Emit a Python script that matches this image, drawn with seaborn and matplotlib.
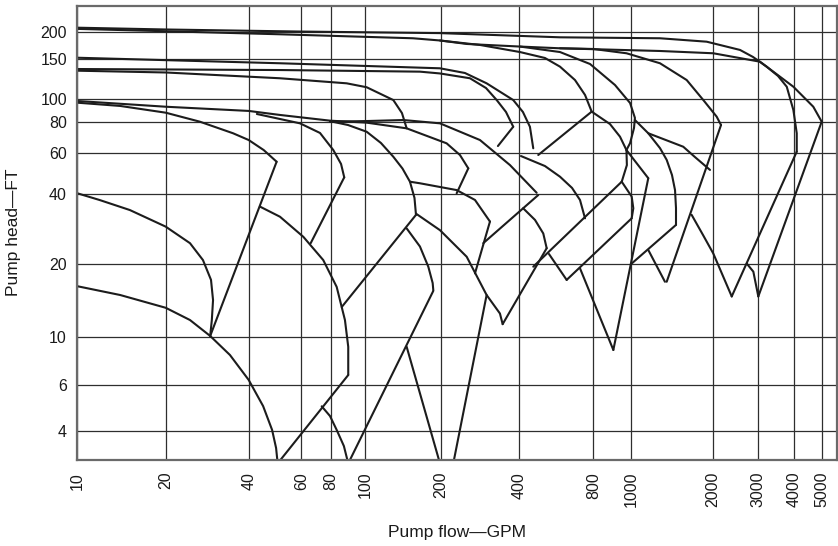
import numpy as np
import pandas as pd
import matplotlib
matplotlib.use("Agg")
import matplotlib.pyplot as plt
import seaborn as sns

# ---------------- data (flow GPM, head FT) ----------------
x_ticks = [10, 20, 40, 60, 80, 100, 200, 400, 800, 1000, 2000, 3000, 4000, 5000]
y_ticks = [4, 6, 10, 20, 40, 60, 80, 100, 150, 200]

c_a40_q = [10, 11.9, 15.1, 20, 24.5, 27.3, 29.2, 29.7, 29.4, 29.0]
c_a40_h = [40.4, 37.8, 34.2, 29.0, 24.6, 20.8, 17.2, 14.2, 11.75, 10.1]
c_a16_q = [10, 14, 20, 24.5, 29, 34.2, 40, 44.7, 47.9, 49.4, 50]
c_a16_h = [16.2, 14.9, 13.2, 11.75, 10.1, 8.27, 6.35, 4.99, 4.04, 3.44, 3.0]
l_a_q = [29.0, 49.6]
l_a_h = [10.1, 55.2]
c_b96_q = [10, 14, 20, 26.6, 35.1, 40, 44.9, 49.6]
c_b96_h = [96.2, 93.2, 87.3, 80, 72, 67.7, 61.8, 55.2]
c_b35_q = [43.6, 50.9, 61.2, 74.2, 83, 87.6, 89.5, 89.5]
c_b35_h = [35.4, 32, 26.2, 20.8, 16.1, 11.75, 9.02, 6.69]
l_b_q = [89.5, 50]
l_b_h = [6.69, 3.0]
c_b5_q = [73.1, 79.2, 83, 87, 89.5]
c_b5_h = [4.98, 4.57, 4.04, 3.5, 3.0]
l_c_q = [89.5, 186.9]
l_c_h = [3.0, 15.5]
c_q1_q = [10, 20, 40, 50.9, 79.2, 101.3, 146.3, 210.8, 237.2, 255.4]
c_q1_h = [97.8, 92.5, 88.8, 85.4, 80.8, 79.3, 75.3, 65.7, 59, 51.7]
l_q1_q = [255.4, 230.4]
l_q1_h = [51.7, 40.4]
c_p5_q = [42.6, 59.4, 71.9, 81.2, 85.4, 87.2]
c_p5_h = [86.2, 78.8, 72.2, 61.8, 54, 47.3]
l_p5_q = [87.2, 65.7]
l_p5_h = [47.3, 24.6]
c_p6_q = [79.2, 89.4, 101.3, 115.5, 129.4, 140.8, 150.8, 157.2, 159.4]
c_p6_h = [80.4, 77.6, 73, 65.9, 58, 51.6, 45.3, 38.6, 32.6]
l_p6_q = [159.4, 85.8]
l_p6_h = [32.6, 13.3]
c_d_q = [146.3, 165.3, 178.5, 185.8, 186.9]
c_d_h = [28.5, 23.8, 19.5, 16.7, 15.6]
c_e_q = [159.4, 198.7, 251.8, 300.4, 338, 346.2]
c_e_h = [33, 28, 21.5, 14.9, 12.5, 11.3]
c_ce_q = [150.8, 165.3, 230.4, 271, 309.4]
c_ce_h = [45.3, 44.6, 41.7, 37.8, 30.5]
l_ce1_q = [309.4, 271]
l_ce1_h = [30.5, 18.3]
l_ce2_q = [291.6, 478.8]
l_ce2_h = [24.6, 39.7]
c_q2_q = [79.2, 101.3, 141.8, 198.7, 283.2, 369.4, 471.7]
c_q2_h = [80, 80.5, 81.3, 78.8, 67.7, 53.4, 40.6]
l_d1_q = [146.3, 198.7]
l_d1_h = [9.02, 3.0]
l_d2_q = [223.6, 300.4]
l_d2_h = [3.0, 14.9]
t_a_q = [10, 20, 59.4, 198.7, 586.4, 1279, 1900, 2558, 2876, 3218, 3519, 3769, 3970, 4078, 4078]
t_a_h = [208.6, 204.7, 200.3, 197, 188.5, 186.6, 180, 165, 153.2, 138.7, 126.1, 113, 89.6, 72, 60.9]
t_b_q = [10, 50.9, 155, 198.7, 252.4, 403.7, 586.4, 1279, 2011, 3054, 3970, 4654, 4977]
t_b_h = [206, 194.6, 186.6, 182.3, 175.7, 171, 167.9, 163.2, 159.3, 145.9, 113, 92.5, 80]
c_800_q = [198.7, 283.2, 403.7, 509.6, 586.4, 674.4, 740.5, 788]
c_800_h = [182.3, 173.9, 161.4, 151.6, 138.7, 121, 103.9, 88.2]
l_5000_q = [4977, 3014]
l_5000_h = [80, 14.7]
l_4000_q = [4078, 2374]
l_4000_h = [60.9, 14.7]
c_3000_q = [2717, 2884, 3014]
c_3000_h = [20.1, 18.6, 14.7]
c_2000_q = [586.4, 800, 974, 1279, 1604, 1847, 2073, 2156]
c_2000_h = [167.9, 166.7, 159.3, 143.6, 121, 98.7, 84, 77.6]
l_2000_q = [2156, 1354]
l_2000_h = [77.6, 16.9]
c_1673_q = [1673, 1842, 2011, 2374]
c_1673_h = [32.6, 26.7, 22.2, 14.7]
l_v1_q = [1158, 1334]
l_v1_h = [23, 16.9]
l_v2_q = [1465, 1006]
l_v2_h = [29.5, 20.1]
c_1465_q = [1034, 1158, 1279, 1354, 1416, 1453, 1465, 1465]
c_1465_h = [81.3, 72, 62.9, 56.2, 48.4, 41.7, 34.9, 29.5]
c_150_q = [10, 50.9, 198.7, 248, 300.4, 380.2, 415, 443, 457]
c_150_h = [152, 143.6, 136.4, 130, 117, 98.7, 87.9, 76.4, 62.8]
c_130a_q = [10, 50.9, 165.3, 198.7, 259.2, 298.8, 328.4, 356.6, 380.2]
c_130a_h = [135.4, 134, 131.8, 129.4, 123.2, 111.5, 98.7, 87.9, 76.4]
l_130a_q = [380.2, 332]
l_130a_h = [76.4, 64.1]
c_130b_q = [10, 20, 50.9, 88.6, 101.3, 129.4, 140.1, 146.3]
c_130b_h = [133.1, 130.7, 123.2, 117, 112.4, 98.7, 87, 75.3]
l_800_q = [788, 478.8]
l_800_h = [88.2, 59]
c_y_q = [788, 883, 937, 973.5, 976, 946.7]
c_y_h = [88.2, 78.3, 69.8, 61.8, 53.4, 45.3]
l_y_q = [946.7, 457]
l_y_h = [45.3, 19.5]
c_v585_q = [407.5, 509.6, 586.4, 656, 706.6, 740.5]
c_v585_h = [58.4, 52.9, 47.6, 42.6, 37.8, 31.5]
c_x_q = [403.7, 586.4, 776, 909.6, 994.6, 1034, 1026, 994.6, 973.5]
c_x_h = [171, 161.4, 142.5, 115, 95.9, 83, 75.5, 65.8, 61.8]
c_z_q = [946.7, 1006, 1020, 1006]
c_z_h = [45.3, 39.1, 34.8, 31.5]
l_z_q = [1006, 624]
l_z_h = [31.5, 17.2]
l_xw_q = [973.5, 1158]
l_xw_h = [61.8, 46.9]
l_dv1_q = [1158, 900.8]
l_dv1_h = [46.9, 8.72]
l_dv2_q = [706.6, 900.8]
l_dv2_h = [19.2, 8.72]
l_vl_q = [529, 624]
l_vl_h = [22.1, 17.2]
c_1720_q = [1158, 1558, 1721, 1955]
c_1720_h = [72, 63.7, 57.8, 50.9]
c_vx546_q = [416, 464.5, 501.7, 518]
c_vx546_h = [34.8, 31, 27.1, 23.4]
l_vx546_q = [518, 346.2]
l_vx546_h = [23.4, 11.3]

series = {
    "c_a40": (c_a40_q, c_a40_h), "c_a16": (c_a16_q, c_a16_h), "l_a": (l_a_q, l_a_h),
    "c_b96": (c_b96_q, c_b96_h), "c_b35": (c_b35_q, c_b35_h), "l_b": (l_b_q, l_b_h),
    "c_b5": (c_b5_q, c_b5_h), "l_c": (l_c_q, l_c_h), "c_q1": (c_q1_q, c_q1_h),
    "l_q1": (l_q1_q, l_q1_h), "c_p5": (c_p5_q, c_p5_h), "l_p5": (l_p5_q, l_p5_h),
    "c_p6": (c_p6_q, c_p6_h), "l_p6": (l_p6_q, l_p6_h), "c_d": (c_d_q, c_d_h),
    "c_e": (c_e_q, c_e_h), "c_ce": (c_ce_q, c_ce_h), "l_ce1": (l_ce1_q, l_ce1_h),
    "l_ce2": (l_ce2_q, l_ce2_h), "c_q2": (c_q2_q, c_q2_h), "l_d1": (l_d1_q, l_d1_h),
    "l_d2": (l_d2_q, l_d2_h), "t_a": (t_a_q, t_a_h), "t_b": (t_b_q, t_b_h),
    "c_800": (c_800_q, c_800_h),
    "l_5000": (l_5000_q, l_5000_h), "l_4000": (l_4000_q, l_4000_h),
    "c_3000": (c_3000_q, c_3000_h), "c_2000": (c_2000_q, c_2000_h),
    "l_2000": (l_2000_q, l_2000_h), "c_1673": (c_1673_q, c_1673_h),
    "l_v1": (l_v1_q, l_v1_h), "l_v2": (l_v2_q, l_v2_h), "c_1465": (c_1465_q, c_1465_h),
    "c_150": (c_150_q, c_150_h), "c_130a": (c_130a_q, c_130a_h),
    "l_130a": (l_130a_q, l_130a_h), "c_130b": (c_130b_q, c_130b_h),
    "l_800": (l_800_q, l_800_h),
    "c_y": (c_y_q, c_y_h), "l_y": (l_y_q, l_y_h), "c_v585": (c_v585_q, c_v585_h),
    "c_x": (c_x_q, c_x_h), "c_z": (c_z_q, c_z_h), "l_z": (l_z_q, l_z_h),
    "l_xw": (l_xw_q, l_xw_h), "l_dv1": (l_dv1_q, l_dv1_h), "l_dv2": (l_dv2_q, l_dv2_h),
    "l_vl": (l_vl_q, l_vl_h), "c_1720": (c_1720_q, c_1720_h),
    "c_vx546": (c_vx546_q, c_vx546_h), "l_vx546": (l_vx546_q, l_vx546_h),
}

rows = []
for name, (qs, hs) in series.items():
    for i, (q, h) in enumerate(zip(qs, hs)):
        rows.append({"curve": name, "order": i, "flow": q, "head": h})
df = pd.DataFrame(rows)

# ---------------- axis scale (log axis, hand-drawn grid spacing) ----------------
gx_val = np.log10([1, 10, 20, 40, 60, 80, 100, 200, 400, 800, 1000, 2000, 3000, 4000, 5000, 1e5])
gx_pos = np.array([-0.3867, 0, .1164, .2257, .2950, .3341, .3792, .4785, .5816, .6795,
                   .7291, .8367, .8960, .9442, .9810, 1.475])
gy_val = np.log10([1, 4, 6, 10, 20, 40, 60, 80, 100, 150, 200, 1000])
gy_pos = np.array([-0.280, .0638, .1644, .2707, .4314, .5849, .6751, .7447, .7953,
                   .8827, .9428, 1.279])


def fx(v):
    return np.interp(np.log10(np.clip(np.asarray(v, float), 1e-6, None)), gx_val, gx_pos)


def ix(p):
    return 10 ** np.interp(np.asarray(p, float), gx_pos, gx_val)


def fy(v):
    return np.interp(np.log10(np.clip(np.asarray(v, float), 1e-6, None)), gy_val, gy_pos)


def iy(p):
    return 10 ** np.interp(np.asarray(p, float), gy_pos, gy_val)


# ---------------- figure ----------------
sns.set_theme(style="white")
plt.rcParams["font.family"] = ["Liberation Sans", "DejaVu Sans"]

fig = plt.figure(figsize=(8.38, 5.46), dpi=100)
ax = fig.add_axes([77.3 / 838, 86 / 546, 759.4 / 838, 454.3 / 546])
ax.set_xscale("function", functions=(fx, ix))
ax.set_yscale("function", functions=(fy, iy))

sns.lineplot(data=df, x="flow", y="head", units="curve", estimator=None, sort=False,
             color="#1c1c1c", linewidth=1.5, ax=ax, legend=False)

ax.set_xlim(float(ix(0.0)), float(ix(1.0)))
ax.set_ylim(float(iy(0.0)), float(iy(1.0)))
ax.set_xticks(x_ticks)
ax.set_xticklabels([str(v) for v in x_ticks], rotation=90)
ax.set_yticks(y_ticks)
ax.set_yticklabels([str(v) for v in y_ticks])
ax.minorticks_off()
ax.tick_params(axis="both", length=0, labelsize=11.5, colors="#1a1a1a")
ax.tick_params(axis="x", pad=8.5)
ax.tick_params(axis="y", pad=7.5)
ax.grid(True, color="#2e2e2e", linewidth=0.9)
for s in ax.spines.values():
    s.set_color("#6a6a6a")
    s.set_linewidth(1.6)
ax.set_xlabel("")
ax.set_ylabel("")

fig.text(457 / 838, 1 - 533 / 546, "Pump flow\u2014GPM", ha="center", va="center",
         fontsize=12.5, color="#1a1a1a")
fig.text(13.5 / 838, 1 - 232 / 546, "Pump head\u2014FT", ha="center", va="center",
         rotation=90, fontsize=12.5, color="#1a1a1a")

fig.savefig("out.png", dpi=100)
